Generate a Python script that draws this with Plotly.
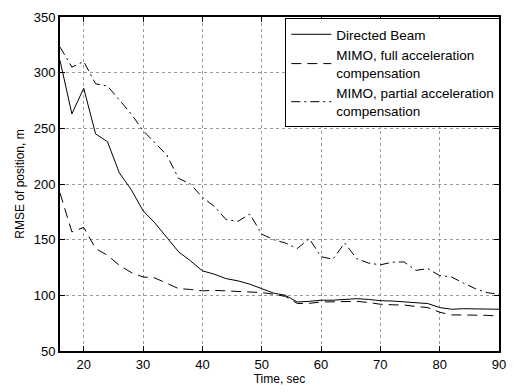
import plotly.graph_objects as go

time = list(range(16, 91, 2))

directed_beam = [311, 263, 286, 245, 238, 210, 195, 176, 165, 152, 139, 131, 122, 119, 115, 113, 110,
                 106, 102, 100, 94, 94.6, 95.6, 95.6, 96, 97, 96.3, 95.2, 94.9, 94.3, 93.7, 92.6,
                 89, 87.5, 88, 88, 87.8, 87.5]
mimo_full = [192, 157, 161, 142, 136, 127, 120.5, 116.5, 115.6, 110.6, 106, 105.3, 104, 104.5, 104, 104,
             103.5, 102.5, 101, 99, 92.7, 92.8, 94, 94, 94.3, 94.6, 93.6, 92, 91.5, 91.3, 90, 89,
             84.8, 82.4, 82.4, 82.4, 82, 81.4]
mimo_partial = [323, 305, 310, 290, 288, 276, 263, 248, 237, 226, 205, 200, 188, 180, 168, 166.5, 173,
                155, 150, 147, 142, 151, 134.7, 132.4, 147, 133, 129, 127.4, 129.8, 130, 122.4, 124,
                117.7, 116.5, 111, 106, 102.4, 101]

series = [
    ("Directed Beam", directed_beam, "solid"),
    ("MIMO, full acceleration<br>compensation", mimo_full, "10px,6px"),
    ("MIMO, partial acceleration<br>compensation", mimo_partial, "9px,4px,2px,4px"),
]

fig = go.Figure()
for name, vals, dash in series:
    fig.add_trace(go.Scatter(x=time, y=vals, mode="lines", name=name,
                             line=dict(color="black", width=1, dash=dash)))

FONT = "Liberation Sans, Arial"
axis_common = dict(showline=True, linecolor="black", linewidth=2, mirror="ticks",
                   ticks="inside", ticklen=5, tickcolor="black",
                   showgrid=True, gridcolor="#999999", griddash="dot", gridwidth=1,
                   zeroline=False, tickfont=dict(family=FONT, size=13, color="black"))

fig.update_xaxes(range=[16, 90], tickvals=list(range(20, 91, 10)),
                 title=dict(text="Time, sec", font=dict(family=FONT, size=12, color="black"), standoff=2),
                 **axis_common)
fig.update_yaxes(range=[50, 350], tickvals=list(range(50, 351, 50)),
                 title=dict(text="RMSE of position, m", font=dict(family=FONT, size=12, color="black"), standoff=6),
                 **axis_common)

fig.update_layout(
    width=516, height=392,
    margin=dict(l=60, r=10, t=13, b=39),
    paper_bgcolor="white", plot_bgcolor="white",
    font=dict(family=FONT, size=12, color="black"),
    legend=dict(x=1.003, y=0.997, xanchor="right", yanchor="top",
                bordercolor="black", borderwidth=1, bgcolor="white",
                font=dict(size=13.5), itemwidth=40, tracegroupgap=0),
    showlegend=True,
)

fig.write_html("out.html")
